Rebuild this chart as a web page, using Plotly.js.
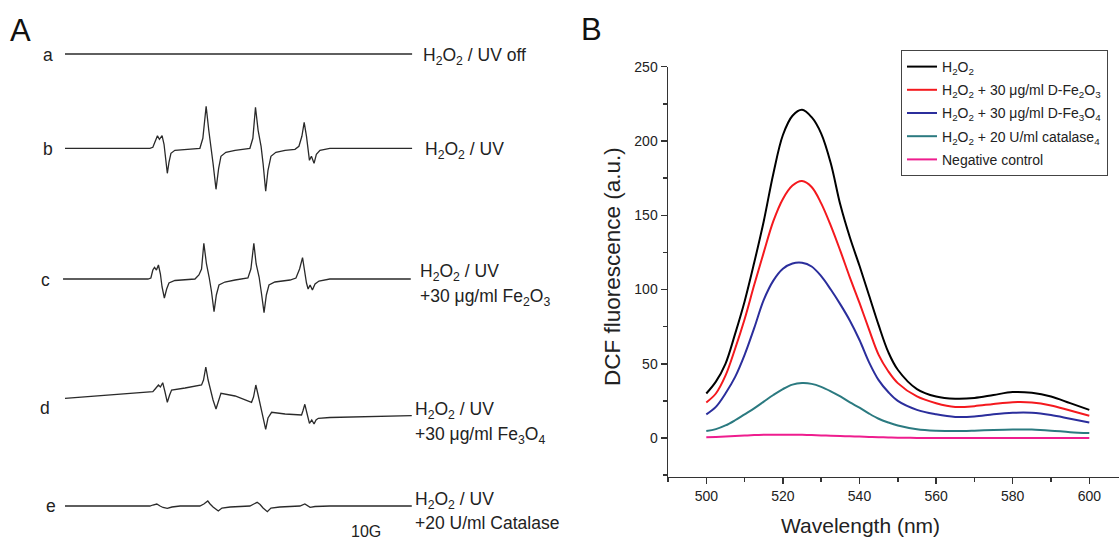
<!DOCTYPE html>
<html>
<head>
<meta charset="utf-8">
<script src="https://cdn.plot.ly/plotly-3.0.1.min.js"></script>
<style>
html,body{margin:0;padding:0;background:#fff;}
#chart{width:1119px;height:544px;}
</style>
</head>
<body>
<div id="chart"></div>
<script>
// ---------------- Panel B data (DCF fluorescence) ----------------
const wavelength = [500,502.5,505,507.5,510,512.5,515,517.5,520,522.5,525,527.5,530,532.5,535,537.5,540,542.5,545,547.5,550,555,560,565,570,575,580,585,590,595,600];
const h2o2       = [30,38,50,70,92,118,146,178,204,217,221,216,205,185,157,135,116,96,76,58,46,33,28,26.5,27,29,31,30.5,28,23.5,19];
const fe2o3      = [24,30,42,60,80,103,125,146,161,170,173,169,158,143,126,108,91,73,56,45,37,28,23.5,21,21.5,23,24.2,24,22,18.5,15];
const fe3o4      = [16,21,30,41,56,74,93,106,114,117.5,118,115.5,109,100,90,79,66,51,39,31,25,19,16,14.2,14.5,16,17,17,15.5,13,10.5];
const catalase   = [4.7,6,8.5,12,16,20,24.5,29,33,36,37,36.5,34.5,31.5,28,24,20.5,16.5,13,10.5,8.5,6,5,4.7,5,5.5,5.8,5.7,5,4,3.4];
const negControl = [0.5,0.8,1.1,1.4,1.7,2,2.2,2.3,2.3,2.3,2.2,2,1.8,1.6,1.4,1.2,1,0.8,0.6,0.45,0.3,0.1,0,0,0,0,0,0,0,0,0];
const seriesNamesB = [
  'H<sub>2</sub>O<sub>2</sub>',
  'H<sub>2</sub>O<sub>2</sub> + 30 \u03bcg/ml D-Fe<sub>2</sub>O<sub>3</sub>',
  'H<sub>2</sub>O<sub>2</sub> + 30 \u03bcg/ml D-Fe<sub>3</sub>O<sub>4</sub>',
  'H<sub>2</sub>O<sub>2</sub> + 20 U/ml catalase<sub>4</sub>',
  'Negative control'
];
const xTicksB = [500,520,540,560,580,600];
const yTicksB = [0,50,100,150,200,250];

// ---------------- Panel A data (EPR spectra, field in G, intensity a.u.) ----------------
const fieldA = [0,105.5];
const intenA = [0,0];

const fieldB = [0,25.8,26.7,27.5,28.1,28.7,29.5,30.1,30.5,31.1,31.6,32.2,33.4,36.5,41.0,41.9,42.9,43.7,44.4,45.0,45.9,46.7,47.4,48.9,51.7,56.2,57.1,57.9,58.7,59.6,60.2,61.0,61.7,62.6,64.1,66.9,69.9,71.1,72.0,72.7,73.4,73.9,74.3,74.9,75.7,76.4,77.5,80.5,105.5];
const intenB = [0,0,1,8,12.6,9,12.6,4,-10,-25,-14,-5,-2,-1,0,10,42,18,2,-15,-41,-20,-8,-4,-2,0,10,41,18,2,-15,-43,-22,-8,-4,-2,-1,2,12,26,12,-5,-12,-8,-15,-6,-2,0,0];

const fieldC = [-0.6,25.2,26.1,26.7,27.2,27.8,28.4,29.0,29.5,30.2,30.9,31.6,33.4,39.5,40.7,41.5,42.2,43.0,43.8,44.5,45.3,46.0,46.8,48.6,51.7,55.6,56.5,57.4,58.1,59.0,59.7,60.5,61.2,62.0,63.8,68.4,70.2,71.3,72.2,72.8,73.4,73.9,74.5,75.2,76.0,77.2,80.5,105.1];
const intenC = [0,0,1,9,11.7,9,14,5,-8,-19,-10,-4,-1.5,0,4,10,35.7,15,2,-12,-32.7,-16,-6,-3,-1,1,10,35.7,15,2,-14,-33.7,-16,-6,-3,-1,1,10,21.3,8,-4,-10,-6,-11,-5,-2,0,0];

const fieldD = [0,13.7,26.7,27.4,28.4,29.0,29.7,30.4,31.1,31.8,32.4,36.5,41.5,42.1,42.8,43.5,44.2,45.0,45.9,46.7,47.4,51.7,56.7,57.3,58.0,58.7,59.4,60.2,61.0,61.7,62.8,66.9,71.9,72.3,72.9,73.6,74.3,75.0,75.7,76.3,77.0,80.5,105.4];
const intenD = [6.7,10,13.3,16,20,18,22.3,13,2.7,10,15,17,20,25,38,25,15,5,-4,5,11.7,9,2.7,8,20,10,0,-13,-24.3,-13,-7.3,-9,-10,-6,0.7,-9,-18.3,-15,-19,-15,-13.3,-12.5,-10.7];

const fieldE = [0,25.8,26.7,27.9,28.9,29.8,31.1,32.5,35.0,41.0,42.2,43.4,44.1,45.0,46.6,47.7,50.2,56.2,57.4,58.4,59.3,60.2,61.5,62.6,65.3,71.4,72.9,74.5,76.0,80.5,105.4];
const intenE = [0,0,1,2,0,-1.5,-2.3,-1,0,0,2,5,2,-1,-5,-2,-1,0,2,3.7,1.5,-2,-5.7,-2,-1,0,2,-1.3,-0.5,0,0];

const eprLetters = ['a','b','c','d','e'];
const eprLine1 = [
  'H<sub>2</sub>O<sub>2</sub> / UV off',
  'H<sub>2</sub>O<sub>2</sub> / UV',
  'H<sub>2</sub>O<sub>2</sub> / UV',
  'H<sub>2</sub>O<sub>2</sub> / UV',
  'H<sub>2</sub>O<sub>2</sub> / UV'
];
const eprLine2 = [
  '', '',
  '+30 \u03bcg/ml Fe<sub>2</sub>O<sub>3</sub>',
  '+30 \u03bcg/ml Fe<sub>3</sub>O<sub>4</sub>',
  '+20 U/ml Catalase'
];

// ---------------- layout helpers ----------------
const W = 1119, H = 544;
const fx = px => px / W;
const fy = py => 1 - py / H;
const FONT = 'Liberation Sans, Arial, Helvetica, sans-serif';

// Panel A geometry
const aLeftPx = 60, aRightPx = 415, pxPerG = 3.29;
const aRange = [-(65 - aLeftPx) / pxPerG, -(65 - aLeftPx) / pxPerG + (aRightPx - aLeftPx) / pxPerG];
const baselinesPx = [54, 148.3, 279, 405, 506];
const halfPx = [30, 50, 50, 50, 20];

const eprFields = [fieldA, fieldB, fieldC, fieldD, fieldE];
const eprIntens = [intenA, intenB, intenC, intenD, intenE];

const traces = [];
const layout = {
  width: W, height: H,
  margin: {l:0, r:0, t:0, b:0},
  paper_bgcolor: '#fff', plot_bgcolor: 'rgba(0,0,0,0)',
  font: {family: FONT, color: '#222'},
  showlegend: true,
  annotations: [],
  xaxis: {domain: [fx(aLeftPx), fx(aRightPx)], range: aRange, visible: false, fixedrange: true}
};

eprFields.forEach((f, i) => {
  const yname = 'yaxis' + (i === 0 ? '' : (i + 1));
  const yref = 'y' + (i === 0 ? '' : (i + 1));
  const c = baselinesPx[i], h = halfPx[i];
  layout[yname] = {domain: [fy(c + h), fy(c - h)], range: [-h, h], visible: false, fixedrange: true, anchor: 'x'};
  traces.push({x: f, y: eprIntens[i], xaxis: 'x', yaxis: yref, type: 'scatter', mode: 'lines',
    line: {color: '#2a2a2a', width: 1.3}, showlegend: false, hoverinfo: 'skip'});
});

// Panel A text
const TXT = 17.5;
const letterPos = [[48,55],[48,149],[45,280],[45,408],[51,506]];
const line1Pos = [[421,57],[423,150],[418,272],[413,410],[413,500]];
const line2Pos = [null,null,[418,297],[413,435],[413,523]];
eprLetters.forEach((t, i) => {
  layout.annotations.push({text: t, x: fx(letterPos[i][0]), y: fy(letterPos[i][1]), xref:'paper', yref:'paper',
    xanchor:'center', yanchor:'middle', showarrow:false, font:{size:TXT, family:FONT, color:'#222'}});
  layout.annotations.push({text: eprLine1[i], x: fx(line1Pos[i][0]), y: fy(line1Pos[i][1]), xref:'paper', yref:'paper',
    xanchor:'left', yanchor:'middle', showarrow:false, font:{size:TXT, family:FONT, color:'#222'}});
  if (eprLine2[i]) {
    layout.annotations.push({text: eprLine2[i], x: fx(line2Pos[i][0]), y: fy(line2Pos[i][1]), xref:'paper', yref:'paper',
      xanchor:'left', yanchor:'middle', showarrow:false, font:{size:TXT, family:FONT, color:'#222'}});
  }
});
layout.annotations.push({text:'10G', x: fx(366), y: fy(521), xref:'paper', yref:'paper', xanchor:'center', yanchor:'top',
  showarrow:false, font:{size:16, family:FONT, color:'#222'}});
layout.annotations.push({text:'A', x: fx(20), y: fy(30), xref:'paper', yref:'paper', xanchor:'center', yanchor:'middle',
  showarrow:false, font:{size:31, family:FONT, color:'#111'}});
layout.annotations.push({text:'B', x: fx(592), y: fy(29), xref:'paper', yref:'paper', xanchor:'center', yanchor:'middle',
  showarrow:false, font:{size:31, family:FONT, color:'#111'}});

// Panel B axis titles
layout.annotations.push({text:'Wavelength (nm)', x: fx(860), y: fy(525), xref:'paper', yref:'paper', xanchor:'center', yanchor:'middle',
  showarrow:false, font:{size:21, family:FONT, color:'#222'}});
layout.annotations.push({text:'DCF fluorescence (a.u.)', x: fx(613), y: fy(267), xref:'paper', yref:'paper', xanchor:'center', yanchor:'middle',
  textangle: -90, showarrow:false, font:{size:22.5, family:FONT, color:'#222'}});

// Panel B
const colorsB = ['#000000', '#f4191e', '#2b2e9c', '#2b7a80', '#ee1d8e'];
const valuesB = [h2o2, fe2o3, fe3o4, catalase, negControl];
valuesB.forEach((v, i) => {
  traces.push({x: wavelength, y: v, xaxis: 'x6', yaxis: 'y6', type: 'scatter', mode: 'lines',
    name: seriesNamesB[i], legendgroup: 'g' + i,
    line: {color: colorsB[i], width: 2, shape: 'spline', smoothing: 1}, hoverinfo: 'skip'});
});
const bLeftPx = 668, bRightPx = 1119, pxPerNm = 3.83;
layout.xaxis6 = {
  domain: [fx(bLeftPx), fx(bRightPx)], range: [490, 490 + (bRightPx - bLeftPx) / pxPerNm], anchor: 'y6',
  showline: true, linecolor: '#333', linewidth: 1.5, showgrid: false, zeroline: false,
  ticks: 'outside', ticklen: 6, tickwidth: 1.5, tickcolor: '#333',
  tickvals: xTicksB, ticktext: xTicksB.map(String),
  minor: {dtick: 10, tick0: 490, ticks: 'outside', ticklen: 4, tickwidth: 1.5, tickcolor: '#333', showgrid: false},
  tickfont: {size: 14, family: FONT, color: '#222'},
  automargin: false, fixedrange: true
};
layout.yaxis6 = {
  domain: [fy(476.7), fy(66.7)], range: [-26, 250], anchor: 'x6',
  showline: true, linecolor: '#333', linewidth: 1.5, showgrid: false, zeroline: false,
  ticks: 'outside', ticklen: 6, tickwidth: 1.5, tickcolor: '#333',
  tickvals: yTicksB, ticktext: yTicksB.map(String),
  minor: {dtick: 25, tick0: 0, ticks: 'outside', ticklen: 4, tickwidth: 1.5, tickcolor: '#333', showgrid: false},
  tickfont: {size: 14, family: FONT, color: '#222'},
  automargin: false, fixedrange: true
};
layout.legend = {
  x: fx(901), y: fy(50), xanchor: 'left', yanchor: 'top',
  bordercolor: '#444', borderwidth: 1, bgcolor: '#fff',
  font: {size: 14, family: FONT, color: '#222'},
  itemwidth: 30, tracegroupgap: 2, traceorder: 'grouped'
};

Plotly.newPlot('chart', traces, layout, {staticPlot: true, displayModeBar: false});
</script>
</body>
</html>
